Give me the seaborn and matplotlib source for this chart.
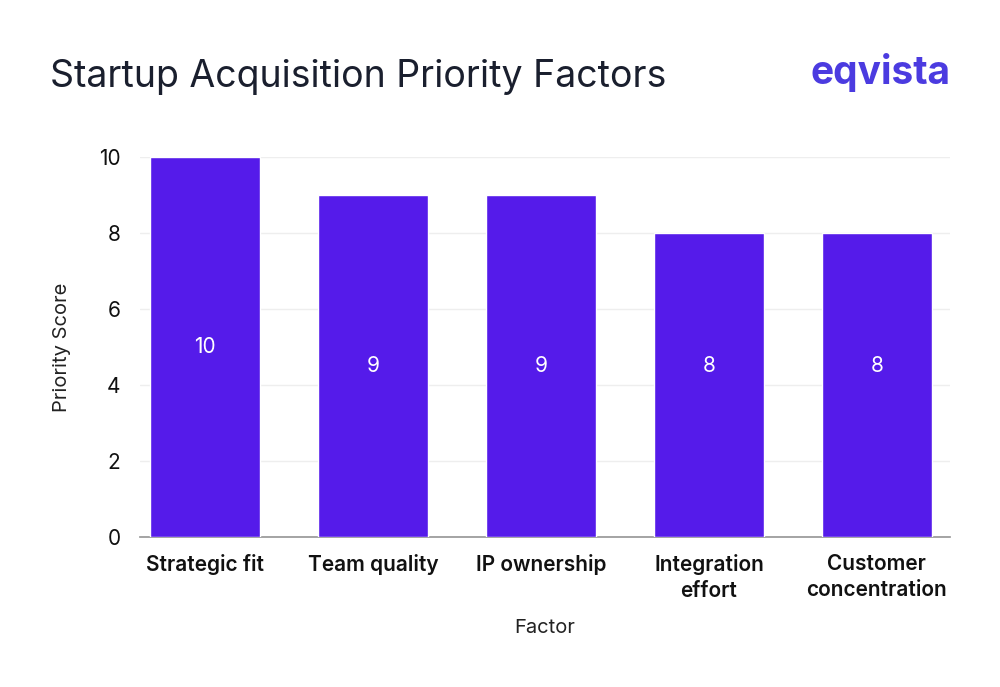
import matplotlib
matplotlib.use("Agg")
import matplotlib.pyplot as plt
import seaborn as sns
import pandas as pd

factors = ["Strategic fit", "Team quality", "IP ownership", "Integration\neffort", "Customer\nconcentration"]
scores = [10, 9, 9, 8, 8]
yticks = [0, 2, 4, 6, 8, 10]

sns.set_theme(style="white")
plt.rcParams['font.family'] = ['Inter', 'DejaVu Sans']

fig = plt.figure(figsize=(10, 6.87), dpi=100)
ax = fig.add_axes([0.14, 0.218, 0.81, 0.553])
df = pd.DataFrame({"Factor": factors, "Score": scores})
sns.barplot(data=df, x="Factor", y="Score", color="#551BEA", saturation=1, width=0.655, ax=ax, zorder=3)
ax.set_xlim(-0.387, 4.435)
ax.set_ylim(0, 10)
ax.set_yticks(yticks)
ax.grid(axis="y", color="#eeeeee", linewidth=1, zorder=0)
for s in ["top", "right", "left"]:
    ax.spines[s].set_visible(False)
ax.spines["bottom"].set_color("#999999")
ax.tick_params(axis="both", length=0, labelsize=15, colors="#111111")
ax.tick_params(axis="x", pad=12)
ax.tick_params(axis="y", pad=14)
for lbl in ax.get_xticklabels():
    lbl.set_fontweight("semibold")
    lbl.set_linespacing(1.35)
ax.set_xlabel("Factor", fontsize=14.5, labelpad=13, color="#222222")
ax.set_ylabel("Priority Score", fontsize=14.5, labelpad=20, color="#222222")
for i, v in enumerate(scores):
    ax.text(i, max(v, 9) / 2, str(v), ha="center", va="center", color="white", fontsize=15)
fig.text(0.05, 0.888, "Startup Acquisition Priority Factors", fontsize=27, color="#1a1f2e", va="center")
fig.text(0.95, 0.895, "eqvista", fontsize=28, color="#4B3BE0", fontweight="bold", ha="right", va="center")
fig.savefig("out.png", dpi=100)
